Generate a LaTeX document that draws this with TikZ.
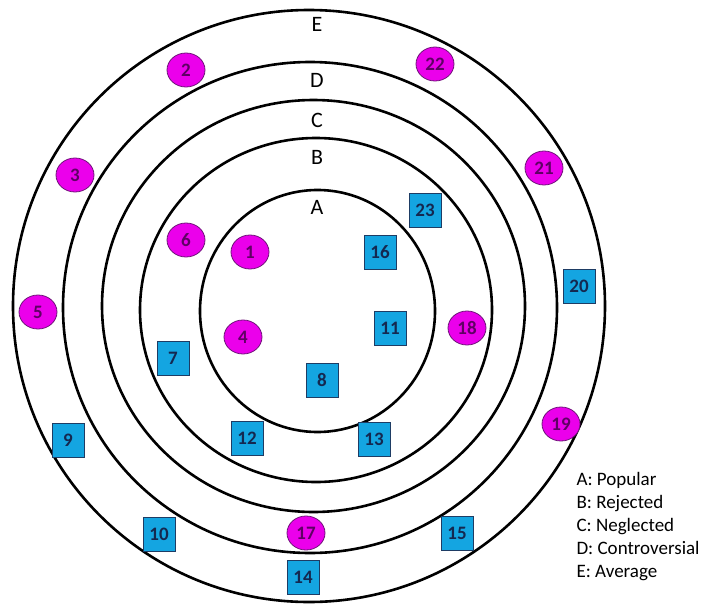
\documentclass[tikz,border=0pt]{standalone}
\usepackage{fontspec}
\setmainfont{Carlito}
\usepackage{xcolor}
\usetikzlibrary{shapes.geometric,positioning}
\definecolor{pinkfill}{RGB}{235,0,235}
\definecolor{pinkline}{RGB}{110,20,120}
\definecolor{pinktext}{RGB}{95,0,100}
\definecolor{bluefill}{RGB}{20,165,225}
\definecolor{blueline}{RGB}{30,60,100}
\definecolor{bluetext}{RGB}{20,40,80}

\begin{document}
\begin{tikzpicture}[
    x=1pt, y=-1pt,
    ring/.style={draw=black, line width=2.6pt},
    ringlabel/.style={font=\fontsize{22}{22}\selectfont},
    circ/.style={ellipse, draw=pinkline, fill=pinkfill, line width=0.8pt, minimum width=38pt, minimum height=34pt, inner sep=0pt, text=pinktext, font=\fontsize{19}{19}\selectfont\bfseries},
    sq/.style={rectangle, draw=blueline, fill=bluefill, line width=0.8pt, minimum width=32pt, minimum height=34pt, inner sep=0pt, text=bluetext, font=\fontsize{19}{19}\selectfont\bfseries},
    legend/.style={anchor=base west, font=\fontsize{19}{23}\selectfont}
]
    \useasboundingbox (0,0) rectangle (704,605);

    % Rings
    \draw[ring] (309,306) ellipse [x radius=296pt, y radius=296pt];
    \draw[ring] (310,307.5) ellipse [x radius=247pt, y radius=245.5pt];
    \draw[ring] (313.5,306) ellipse [x radius=211.5pt, y radius=206pt];
    \draw[ring] (316,310) ellipse [x radius=176pt, y radius=172pt];
    \draw[ring] (317.5,311) ellipse [x radius=117.5pt, y radius=121pt];

    % Ring labels
    \node[ringlabel] (le) at (317,24) {E};
    \node[ringlabel] (ld) at (317,80) {D};
    \node[ringlabel] (lc) at (317,120) {C};
    \node[ringlabel] (lb) at (317,157) {B};
    \node[ringlabel] (la) at (317,207) {A};

    % Round members
    \node[circ] (n2) at (186,70) {2};
    \node[circ] (n22) at (435,64) {22};
    \node[circ] (n3) at (75,175) {3};
    \node[circ] (n21) at (544,168) {21};
    \node[circ] (n6) at (186,240) {6};
    \node[circ] (n1) at (250,252) {1};
    \node[circ] (n5) at (38,312) {5};
    \node[circ] (n18) at (467,328) {18};
    \node[circ] (n4) at (243,337) {4};
    \node[circ] (n19) at (561,424) {19};
    \node[circ] (n17) at (306,533) {17};

    % Square members
    \node[sq] (n23) at (425,210) {23};
    \node[sq] (n16) at (380,252) {16};
    \node[sq] (n20) at (579,286) {20};
    \node[sq] (n11) at (390,328) {11};
    \node[sq] (n7) at (173,358) {7};
    \node[sq] (n8) at (322,380) {8};
    \node[sq] (n9) at (68,440) {9};
    \node[sq] (n12) at (247,438) {12};
    \node[sq] (n13) at (374,439) {13};
    \node[sq] (n10) at (159,534) {10};
    \node[sq] (n15) at (457,533) {15};
    \node[sq] (n14) at (303,577) {14};

    % Legend
    \foreach \txt [count=\i from 0] in {A: Popular, B: Rejected, C: Neglected, D: Controversial, E: Average}
        \node[legend] (key\i) at (573,485+23*\i) {\txt};
\end{tikzpicture}
\end{document}
